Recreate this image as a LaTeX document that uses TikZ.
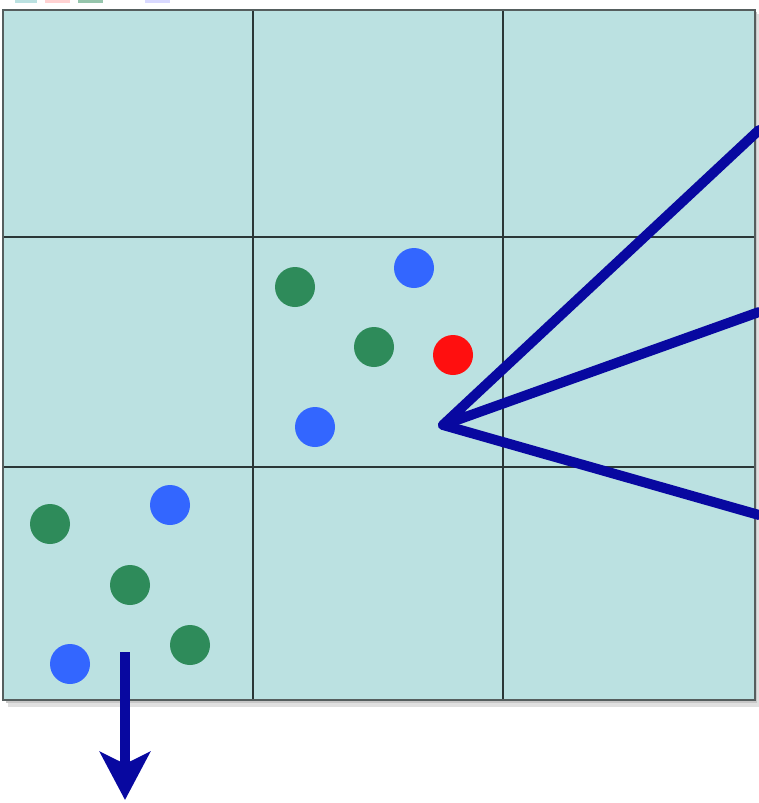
\documentclass[tikz,border=0pt]{standalone}
\usetikzlibrary{arrows.meta}
\definecolor{cellfill}{HTML}{BBE1E1}
\definecolor{gridline}{HTML}{2A3636}
\definecolor{rayblue}{HTML}{0808A0}
\definecolor{dotgreen}{HTML}{2E8B5A}
\definecolor{dotblue}{HTML}{3366FF}
\definecolor{dotred}{HTML}{FF0F0F}
\tikzset{
  dot/.style={circle, minimum size=40pt, inner sep=0pt, draw=none},
  gdot/.style={dot, fill=dotgreen},
  bdot/.style={dot, fill=dotblue},
  rdot/.style={dot, fill=dotred},
  ray/.style={draw=rayblue, line width=10pt, line cap=round, line join=round},
  gridl/.style={draw=gridline, line width=1.6pt}
}
\begin{document}
\begin{tikzpicture}[x=1pt,y=-1pt]
\useasboundingbox (0,0) rectangle (759,803);
\fill[white] (0,0) rectangle (759,803);
% cut-off legend bits
\fill[cellfill] (15,0) rectangle (37,3);
\fill[pink!70] (45,0) rectangle (70,3);
\fill[dotgreen!50] (78,0) rectangle (103,3);
\fill[blue!15] (145,0) rectangle (170,3);
% shadow
\fill[black!12] (8,14) rectangle (759,707);
\fill[black!22] (6,12) rectangle (757,703);
% grid
\fill[cellfill] (3,10) rectangle (755,700);
\draw[gridl] (253,10) -- (253,700);
\draw[gridl] (503,10) -- (503,700);
\draw[gridl] (3,237) -- (755,237);
\draw[gridl] (3,467) -- (755,467);
\draw[draw=gridline!80, line width=2.6pt] (3,10) rectangle (755,700);
% rays
\coordinate (hub) at (443,425);
\coordinate (r1) at (759,130);
\coordinate (r2) at (759,312);
\coordinate (r3) at (759,515);
\draw[ray] (r1) -- (hub) -- (r2);
\draw[ray] (hub) -- (r3);
% dots
\node[gdot] (g1) at (295,287) {};
\node[gdot] (g2) at (374,347) {};
\node[gdot] (g3) at (50,524) {};
\node[gdot] (g4) at (130,585) {};
\node[gdot] (g5) at (190,645) {};
\node[bdot] (b1) at (414,268) {};
\node[bdot] (b2) at (315,427) {};
\node[bdot] (b3) at (170,505) {};
\node[bdot] (b4) at (70,664) {};
\node[rdot] (r0) at (453,355) {};
% arrow
\coordinate (as) at (125,652);
\coordinate (ae) at (125,800);
\draw[draw=rayblue, line width=10pt, -{Stealth[width=50pt,length=48pt,inset=12pt]}] (as) -- (ae);
\end{tikzpicture}
\end{document}
